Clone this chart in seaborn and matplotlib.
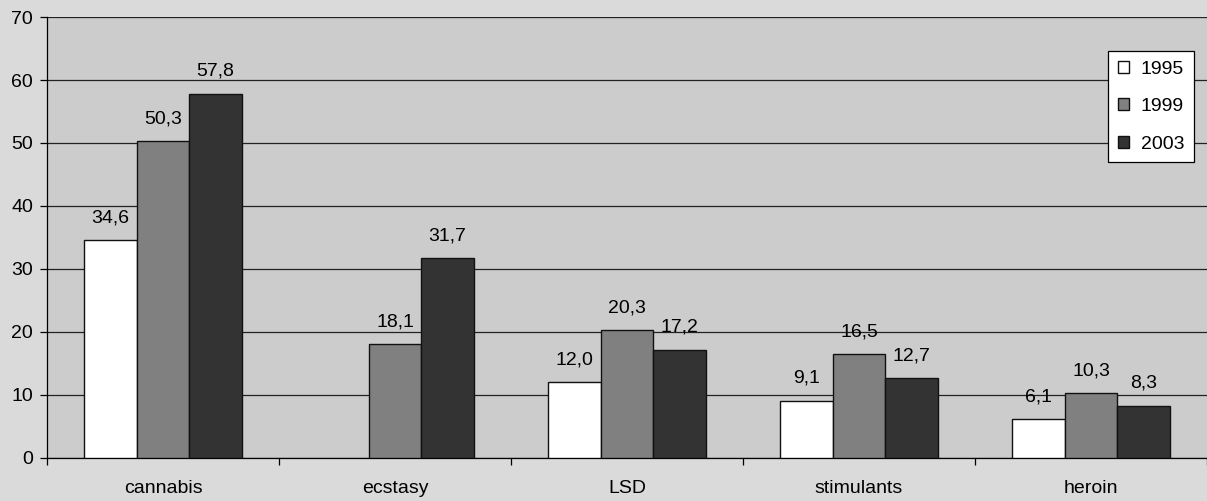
import matplotlib
matplotlib.use("Agg")
import matplotlib.pyplot as plt
import seaborn as sns
import pandas as pd
import numpy as np

# data
drugs = ['cannabis', 'ecstasy', 'LSD', 'stimulants', 'heroin']
years = ['1995', '1999', '2003']
v1995 = [34.6, np.nan, 12.0, 9.1, 6.1]
v1999 = [50.3, 18.1, 20.3, 16.5, 10.3]
v2003 = [57.8, 31.7, 17.2, 12.7, 8.3]

df = pd.DataFrame({'drug': drugs * 3,
                   'year': [y for y in years for _ in drugs],
                   'value': v1995 + v1999 + v2003})

sns.set_style('white')
plt.rcParams['font.family'] = ['Liberation Sans', 'DejaVu Sans']
plt.rcParams['text.color'] = 'black'
plt.rcParams['xtick.color'] = 'black'
plt.rcParams['ytick.color'] = 'black'

fig = plt.figure(figsize=(12.07, 5.01), dpi=100, facecolor='#dadada')
ax = fig.add_axes([0.039, 0.086, 0.961, 0.88])
ax.set_facecolor('#cccccc')

colors = {'1995': '#ffffff', '1999': '#808080', '2003': '#333333'}
sns.barplot(data=df, x='drug', y='value', hue='year', order=drugs, hue_order=years,
            palette=colors, width=0.68, edgecolor='#111111', linewidth=1.0,
            saturation=1, ax=ax, zorder=3)

# value labels with comma decimals
for cont in ax.containers:
    for bar in cont:
        h = bar.get_height()
        if np.isnan(h) or h == 0:
            continue
        ax.annotate(f'{h:.1f}'.replace('.', ','), (bar.get_x() + bar.get_width() / 2, h),
                    xytext=(0, 10), textcoords='offset points', ha='center', va='bottom',
                    fontsize=14, color='black', zorder=4)

ax.set_ylim(0, 70)
ax.set_xlim(-0.5, 4.5)
ax.set_yticks(range(0, 71, 10))
ax.yaxis.grid(True, color='#222222', linewidth=0.9, zorder=0)
ax.set_axisbelow(True)
ax.set_xlabel('')
ax.set_ylabel('')
ax.tick_params(axis='y', length=5, width=0.9, color='black', labelsize=14, left=True, pad=5)
ax.tick_params(axis='x', which='major', length=0, labelsize=14, pad=16)
ax.set_xticks(np.arange(-0.5, 4.6, 1), minor=True)
ax.tick_params(axis='x', which='minor', length=5, width=0.9, color='black', bottom=True)
for s in ['top', 'right']:
    ax.spines[s].set_visible(False)
for s in ['left', 'bottom']:
    ax.spines[s].set_color('black')
    ax.spines[s].set_linewidth(0.9)

handles, labels = ax.get_legend_handles_labels()
leg = ax.legend(handles, labels, loc='upper right', bbox_to_anchor=(0.9888, 0.923),
                frameon=True, fancybox=False, edgecolor='black', facecolor='white',
                fontsize=14, handlelength=0.57, handleheight=0.57, handletextpad=0.6,
                labelspacing=1.05, borderpad=0.5, borderaxespad=0, framealpha=1)
leg.get_frame().set_linewidth(0.9)

fig.savefig('out.png', dpi=100, facecolor=fig.get_facecolor())
